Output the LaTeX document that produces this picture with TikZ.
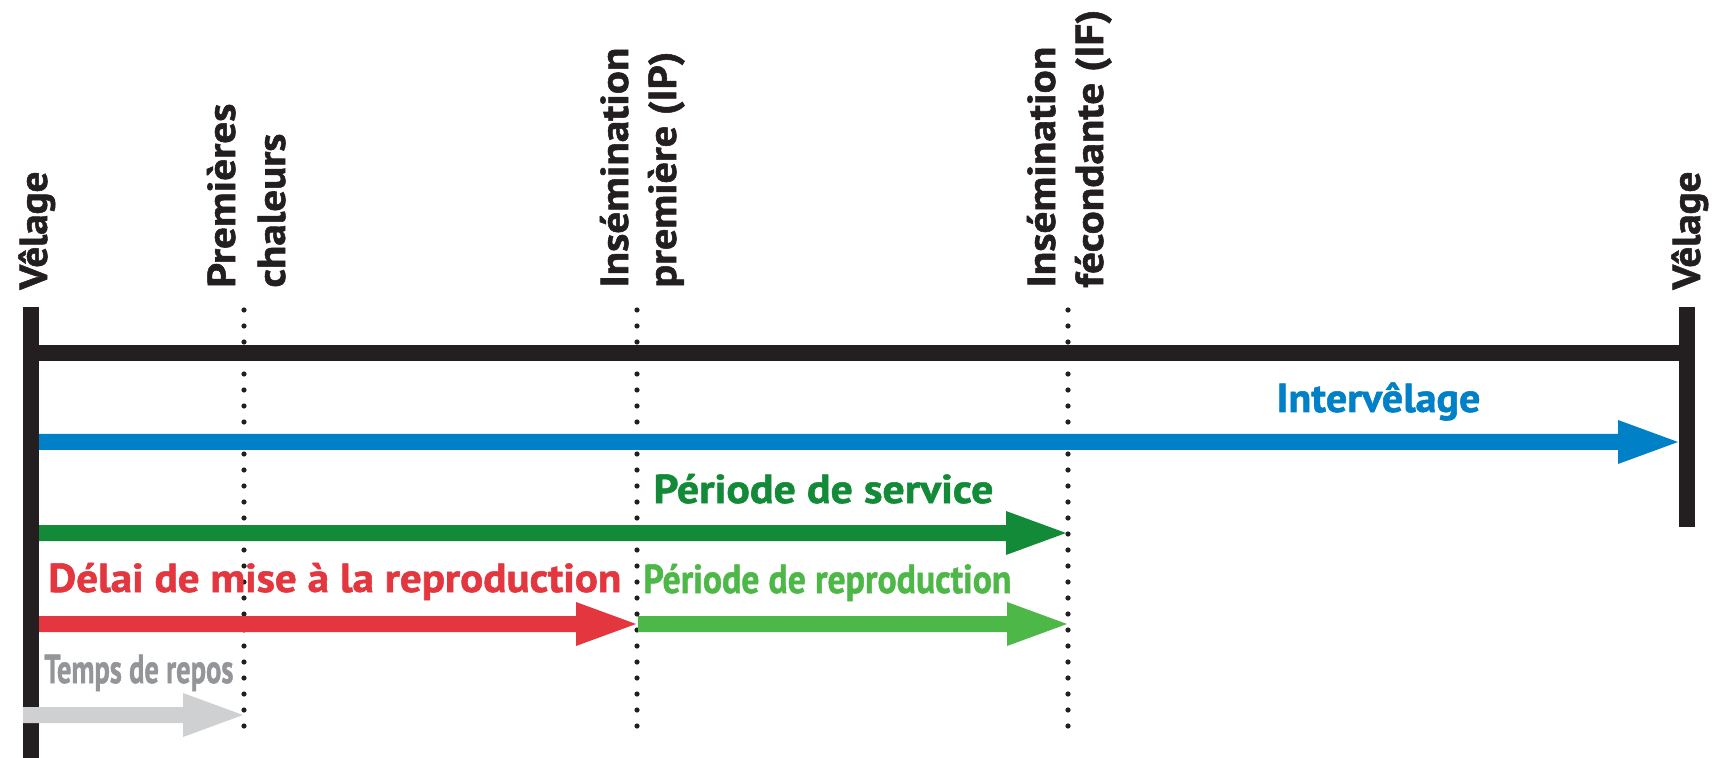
\documentclass[tikz,border=0pt]{standalone}
\usepackage{fontspec}
\usepackage{graphicx}
\setmainfont{PT Sans}[BoldFeatures={FakeBold=1.3}]
\usetikzlibrary{calc}
\definecolor{kblack}{HTML}{231F20}
\definecolor{kblue}{HTML}{0080C6}
\definecolor{kdgreen}{HTML}{138A38}
\definecolor{kred}{HTML}{E3363E}
\definecolor{klgreen}{HTML}{4DB848}
\definecolor{kgrayarrow}{HTML}{CFD0D2}
\definecolor{kgraytext}{HTML}{939598}
\newcommand\fitw[2]{\resizebox{#1}{\height}{#2}}
\newcommand\fatarrow[3]{%
  \fill[#1] ($(#2)+(0,-8)$) -- ($(#3)+(-60,-8)$) -- ($(#3)+(-60,-22)$) -- (#3)
    -- ($(#3)+(-60,22)$) -- ($(#3)+(-60,8)$) -- ($(#2)+(0,8)$) -- cycle;}
\tikzset{
  hlabel/.style={anchor=base west, inner sep=0pt, font=\fontsize{20.2}{24}\selectfont\bfseries},
  vlabel/.style={anchor=base west, inner sep=0pt, rotate=90, text=kblack, font=\fontsize{19.5}{24}\selectfont\bfseries},
  bar/.style={kblack, line width=8pt},
  dotline/.style={kblack, line width=2.6pt, line cap=round, dash pattern=on 0pt off 8pt},
}
\begin{document}
\begin{tikzpicture}[x=0.5pt,y=-0.5pt]
\useasboundingbox (0,0) rectangle (1717,758);
% coordinates
\coordinate (L1) at (31,307);   \coordinate (L2) at (31,758);
\coordinate (R1) at (1686.5,307); \coordinate (R2) at (1686.5,527);
\coordinate (H1) at (31,353);   \coordinate (H2) at (1686.5,353);
\coordinate (D1a) at (244,310);  \coordinate (D1b) at (244,728);
\coordinate (D2a) at (637,310);  \coordinate (D2b) at (637,728);
\coordinate (D3a) at (1068,310); \coordinate (D3b) at (1068,728);
\coordinate (bS) at (39,442);  \coordinate (bT) at (1678,442);
\coordinate (gS) at (39,533);  \coordinate (gT) at (1066,533);
\coordinate (rS) at (39,624);  \coordinate (rT) at (636,624);
\coordinate (lS) at (638,624); \coordinate (lT) at (1067,624);
\coordinate (yS) at (23,715);  \coordinate (yT) at (243,715);
% dotted lines
\draw[dotline] (D1a) -- (D1b);
\draw[dotline] (D2a) -- (D2b);
\draw[dotline] (D3a) -- (D3b);
% arrows
\fatarrow{kblue}{bS}{bT}
\fatarrow{kdgreen}{gS}{gT}
\fatarrow{kred}{rS}{rT}
\fatarrow{klgreen}{lS}{lT}
% bars
\draw[bar] (L1) -- (L2);
\draw[bar] (R1) -- (R2);
\draw[bar] (H1) -- (H2);
\fatarrow{kgrayarrow}{yS}{yT}
% horizontal labels
\node[hlabel, text=kblue] (tint) at (1276,412) {\fitw{102pt}{Intervêlage}};
\node[hlabel, text=kdgreen] (tser) at (653,503) {\fitw{170pt}{Période de service}};
\node[hlabel, text=kred] (tdel) at (48,592) {\fitw{286.5pt}{Délai de mise à la reproduction}};
\node[hlabel, text=klgreen] (trep) at (643,593) {\fitw{184pt}{Période de reproduction}};
\node[hlabel, text=kgraytext] (ttmp) at (44,683) {\fitw{94.5pt}{Temps de repos}};
% vertical labels
\node[vlabel] (v1) at (47,290) {\fitw{59pt}{Vêlage}};
\node[vlabel] (p1) at (235,288) {\fitw{92pt}{Premières}};
\node[vlabel] (p2) at (285,288) {\fitw{77pt}{chaleurs}};
\node[vlabel] (i1) at (628,288) {\fitw{120pt}{Insémination}};
\node[vlabel] (i2) at (676,288) {\fitw{118pt}{première (IP)}};
\node[vlabel] (f1) at (1055,288) {\fitw{120.5pt}{Insémination}};
\node[vlabel] (f2) at (1103,288) {\fitw{139pt}{fécondante (IF)}};
\node[vlabel] (v2) at (1700,290) {\fitw{59pt}{Vêlage}};
\end{tikzpicture}
\end{document}
